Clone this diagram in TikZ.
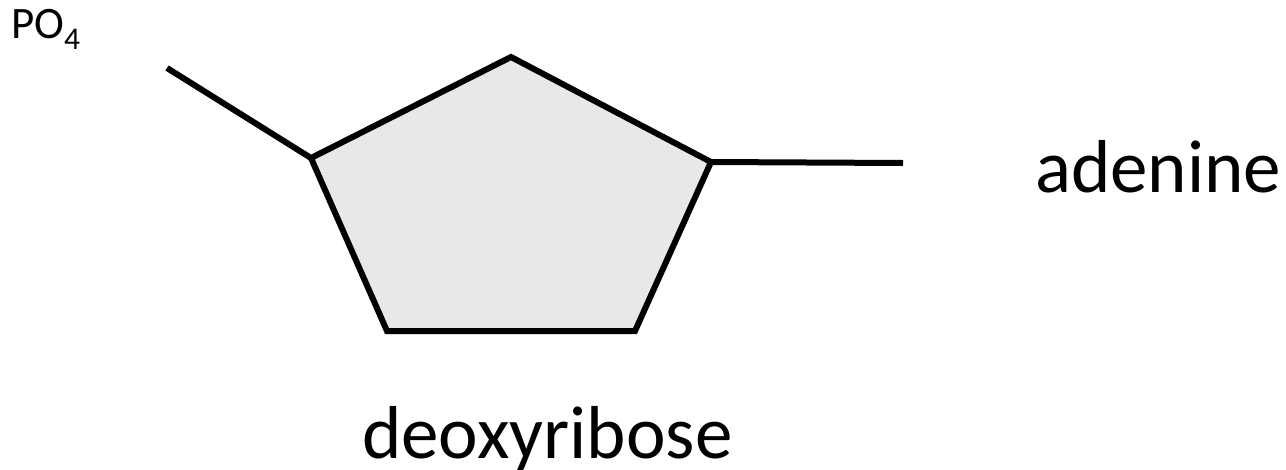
\documentclass[tikz,border=0pt]{standalone}
\usepackage{fontspec}
\setmainfont{Carlito}
\definecolor{ringfill}{HTML}{E8E8E8}
\begin{document}
\begin{tikzpicture}[x=1pt,y=-1pt,
  bond/.style={line width=6pt,line join=miter},
  bigtext/.style={font=\fontsize{75}{88}\selectfont,inner sep=0pt,anchor=base west},
  smalltext/.style={font=\fontsize{45}{54}\selectfont,inner sep=0pt,anchor=base west}]
\useasboundingbox (0,0) rectangle (1286,469);
\coordinate (top) at (511,57);
\coordinate (rt) at (711,162);
\coordinate (br) at (635,331);
\coordinate (bl) at (387,331);
\coordinate (lt) at (311,158);
\coordinate (pend) at (167,68);
\coordinate (aend) at (903,163);
\draw[bond,fill=ringfill] (top) -- (rt) -- (br) -- (bl) -- (lt) -- cycle;
\draw[bond] (lt) -- (pend);
\draw[bond] (rt) -- (aend);
\node[smalltext] (po4) at (11,38) {PO$_{\mathrm{4}}$};
\node[bigtext] (aden) at (1035,192) {adenine};
\node[bigtext] (deox) at (362,458) {deoxyribose};
\end{tikzpicture}
\end{document}
